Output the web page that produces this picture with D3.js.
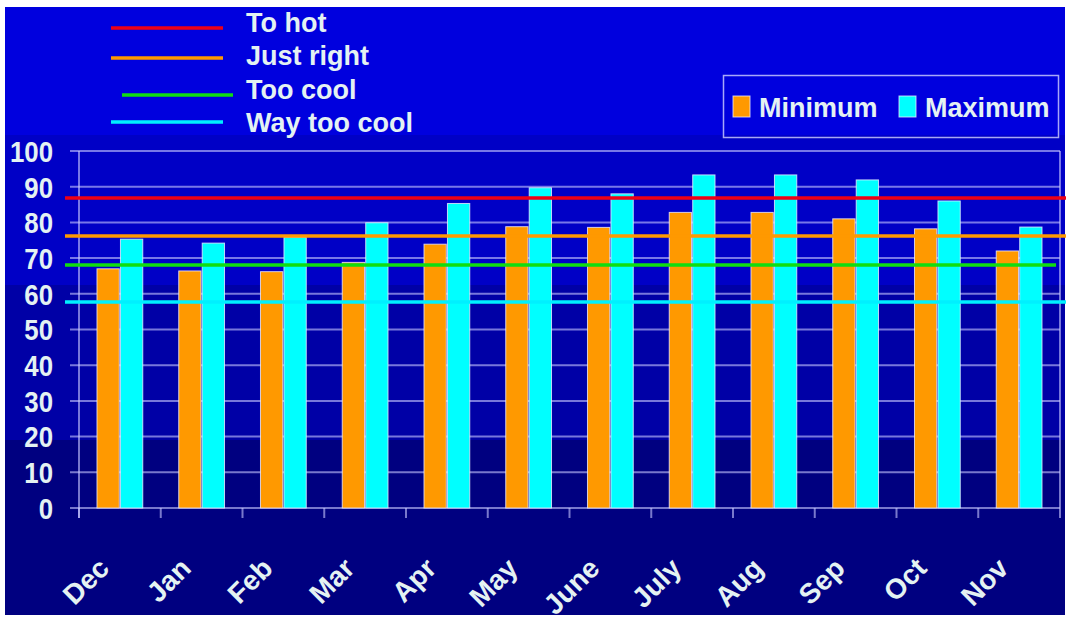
<!DOCTYPE html>
<html>
<head>
<meta charset="utf-8">
<script src="https://cdn.jsdelivr.net/npm/d3@7"></script>
<style>
  body { margin: 0; background: #fff; }
  text { font-family: "Liberation Sans", Arial, sans-serif; font-weight: bold; fill: #e4f2f2; }
</style>
</head>
<body>
<div id="chart"></div>
<script>
var months = ["Dec", "Jan", "Feb", "Mar", "Apr", "May", "June", "July", "Aug", "Sep", "Oct", "Nov"];
var minTemps = [67, 66.4, 66.2, 68.8, 73.9, 78.8, 78.6, 82.8, 82.8, 81, 78.2, 72];
var maxTemps = [75.3, 74.2, 75.8, 79.9, 85.3, 89.7, 88, 93.3, 93.3, 91.9, 86, 78.7];
var seriesNames = ["Minimum", "Maximum"];
var limitNames = ["To hot", "Just right", "Too cool", "Way too cool"];
var limitValues = [86.8, 76.2, 68.1, 57.7];
var yTicks = [0, 10, 20, 30, 40, 50, 60, 70, 80, 90, 100];

var barColors = ["#ff9900", "#00ffff"];
var limitColors = ["#ee0015", "#ff9900", "#10dd10", "#00f0ff"];

var W = 1073, H = 619;
var margin = {top: 151, right: 13, bottom: 111, left: 79},
    width = W - margin.left - margin.right,
    height = H - margin.top - margin.bottom;

var svg = d3.select("#chart")
  .append("svg")
    .attr("width", W)
    .attr("height", H);

// stepped blue background
var bands = [[7, 135, "#0000de"], [135, 285, "#0000c6"], [285, 440, "#0000a6"], [440, 615, "#000080"]];
svg.selectAll("rect.bg")
  .data(bands)
  .enter().append("rect")
    .attr("class", "bg")
    .attr("x", 5)
    .attr("y", function(d) { return d[0]; })
    .attr("width", 1060)
    .attr("height", function(d) { return d[1] - d[0]; })
    .attr("fill", function(d) { return d[2]; });

var g = svg.append("g")
    .attr("transform", "translate(" + margin.left + "," + margin.top + ")");

var x0 = d3.scaleBand()
    .domain(months)
    .range([0, width])
    .padding(0);

var x1 = d3.scaleBand()
    .domain(seriesNames)
    .range([x0.bandwidth() * 0.22, x0.bandwidth() * 0.78])
    .paddingInner(0.05);

var y = d3.scaleLinear()
    .domain([0, 100])
    .range([height, 0]);

var gridColor = "rgba(200,200,255,0.6)";

// gridlines
g.append("g")
  .selectAll("line")
  .data(yTicks)
  .enter().append("line")
    .attr("x1", -9)
    .attr("x2", width)
    .attr("y1", function(d) { return y(d); })
    .attr("y2", function(d) { return y(d); })
    .attr("stroke", gridColor)
    .attr("stroke-width", 2);

// frame: left, right
g.append("line").attr("x1", 0).attr("x2", 0).attr("y1", 0).attr("y2", height + 10)
  .attr("stroke", gridColor).attr("stroke-width", 2);
g.append("line").attr("x1", width).attr("x2", width).attr("y1", 0).attr("y2", height + 10)
  .attr("stroke", gridColor).attr("stroke-width", 2);

// x ticks at band boundaries
g.append("g")
  .selectAll("line")
  .data(months)
  .enter().append("line")
    .attr("x1", function(d) { return x0(d); })
    .attr("x2", function(d) { return x0(d); })
    .attr("y1", height)
    .attr("y2", height + 10)
    .attr("stroke", gridColor)
    .attr("stroke-width", 2);

// bars
var rows = months.map(function(m, i) {
  return {month: m, values: [{key: "Minimum", v: minTemps[i]}, {key: "Maximum", v: maxTemps[i]}]};
});

g.append("g")
  .selectAll("g")
  .data(rows)
  .enter().append("g")
    .attr("transform", function(d) { return "translate(" + x0(d.month) + ",0)"; })
  .selectAll("rect")
  .data(function(d) { return d.values; })
  .enter().append("rect")
    .attr("x", function(d) { return x1(d.key); })
    .attr("y", function(d) { return y(d.v); })
    .attr("width", x1.bandwidth())
    .attr("height", function(d) { return height - y(d.v); })
    .attr("fill", function(d, i) { return barColors[i]; })
    .attr("stroke", "rgba(235,235,255,0.8)")
    .attr("stroke-width", 1);

// reference lines
g.append("g")
  .selectAll("line")
  .data(limitValues)
  .enter().append("line")
    .attr("x1", -14)
    .attr("x2", function(d, i) { return i === 2 ? width - 4 : width + 6; })
    .attr("y1", function(d) { return y(d); })
    .attr("y2", function(d) { return y(d); })
    .attr("stroke", function(d, i) { return limitColors[i]; })
    .attr("stroke-width", 3.5);

// y labels (slightly condensed digits)
g.append("g")
  .selectAll("text")
  .data(yTicks)
  .enter().append("text")
    .attr("transform", function(d) { return "translate(-26," + y(d) + ") scale(0.86,1)"; })
    .attr("dy", "0.36em")
    .attr("text-anchor", "end")
    .style("font-size", "30px")
    .text(function(d) { return d; });

// x labels
g.append("g")
  .selectAll("text")
  .data(months)
  .enter().append("text")
    .attr("transform", function(d) {
      return "translate(" + (x0(d) + x0.bandwidth() / 2 - 9) + "," + (height + 62) + ") rotate(-45)";
    })
    .attr("text-anchor", "end")
    .style("font-size", "28px")
    .text(function(d) { return d; });

// top-left legend of reference lines
var leg = svg.append("g");
leg.selectAll("line")
  .data(limitNames)
  .enter().append("line")
    .attr("x1", function(d, i) { return i === 2 ? 122 : 111; })
    .attr("x2", function(d, i) { return i === 2 ? 233 : 223; })
    .attr("y1", function(d, i) { return [28, 58, 95, 122][i]; })
    .attr("y2", function(d, i) { return [28, 58, 95, 122][i]; })
    .attr("stroke", function(d, i) { return limitColors[i]; })
    .attr("stroke-width", 3.5);
leg.selectAll("text")
  .data(limitNames)
  .enter().append("text")
    .attr("x", 246)
    .attr("y", function(d, i) { return 32 + i * 33.4; })
    .style("font-size", "27px")
    .text(function(d) { return d; });

// series legend
var sleg = svg.append("g");
sleg.append("rect")
    .attr("x", 723.5).attr("y", 75.5)
    .attr("width", 335).attr("height", 62)
    .attr("fill", "none")
    .attr("stroke", "rgba(210,210,255,0.8)")
    .attr("stroke-width", 1.5);
var sx = [733, 899];
sleg.selectAll("rect.sw")
  .data(seriesNames)
  .enter().append("rect")
    .attr("class", "sw")
    .attr("x", function(d, i) { return sx[i]; })
    .attr("y", 96)
    .attr("width", 17)
    .attr("height", 21)
    .attr("fill", function(d, i) { return barColors[i]; })
    .attr("stroke", "rgba(235,235,255,0.8)")
    .attr("stroke-width", 1);
sleg.selectAll("text")
  .data(seriesNames)
  .enter().append("text")
    .attr("x", function(d, i) { return sx[i] + 26; })
    .attr("y", 117)
    .style("font-size", "27px")
    .text(function(d) { return d; });
</script>
</body>
</html>
